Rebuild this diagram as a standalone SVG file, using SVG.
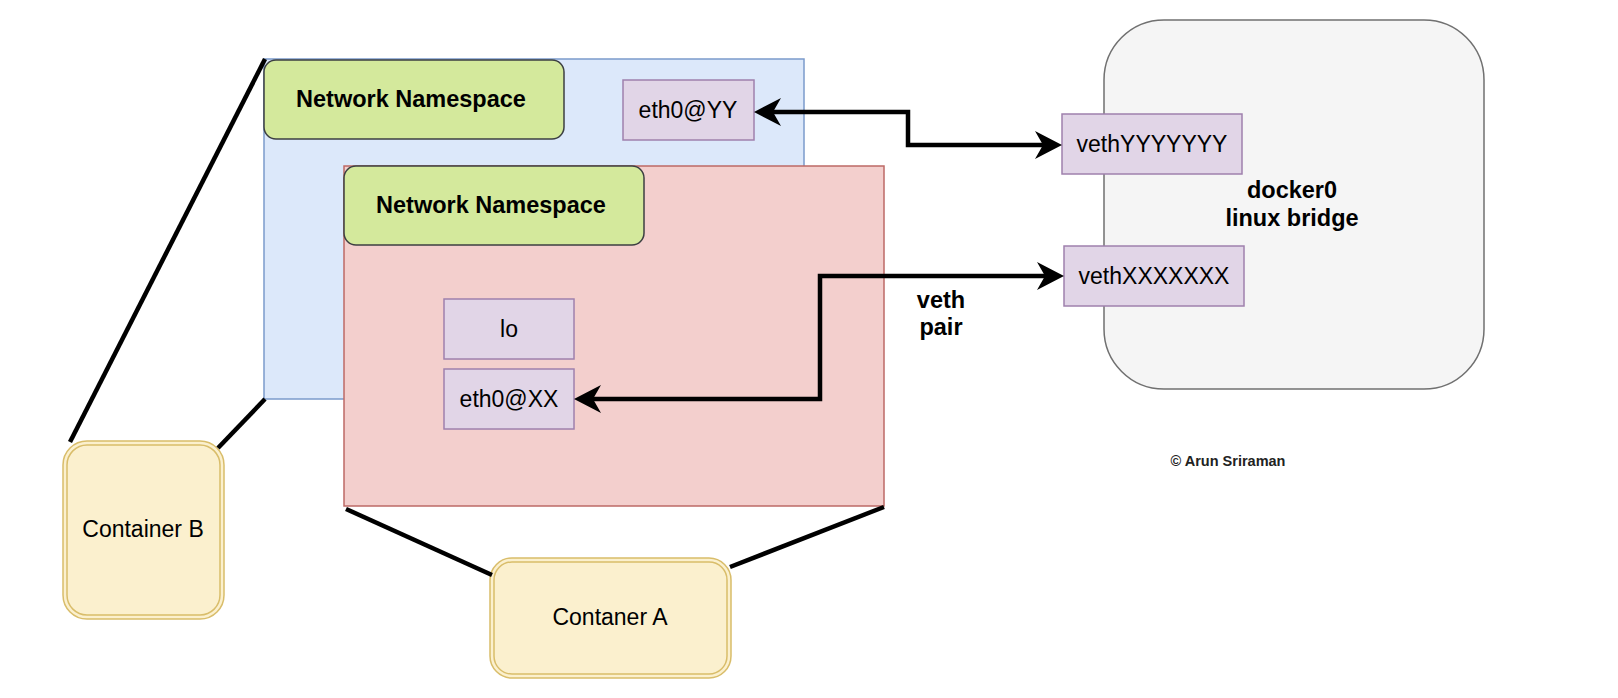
<svg xmlns="http://www.w3.org/2000/svg" width="1618" height="698" viewBox="0 0 1618 698">
<style>
text{font-family:"Liberation Sans",Arial,Helvetica,sans-serif;fill:#000;text-anchor:middle}
.lbl{font-size:23px}
.b{font-weight:bold;font-size:23.5px}
.blue{fill:#dce8fa;stroke:#7b9bcb;stroke-width:1.5}
.red{fill:#f3cfcd;stroke:#bd6a66;stroke-width:1.5}
.green{fill:#d4e99c;stroke:#3c3f42;stroke-width:1.5}
.purple{fill:#e1d5e7;stroke:#9f80ad;stroke-width:1.5}
.gray{fill:#f5f5f5;stroke:#707070;stroke-width:1.5}
.cont{fill:#fbf0ce;stroke:#d9bd6a;stroke-width:1.5}
.link{fill:none;stroke:#000;stroke-width:4.5}
.conn{fill:none;stroke:#000;stroke-width:4.5;stroke-linejoin:miter}
</style>
<defs>
<marker id="arr" markerUnits="userSpaceOnUse" markerWidth="32" markerHeight="32" refX="20" refY="16" orient="auto-start-reverse" overflow="visible">
<path d="M1,2 L28,16 L1,30 L9,16 Z" fill="#000"/>
</marker>
</defs>
<rect width="1618" height="698" fill="#ffffff"/>

<g id="docker0">
<rect class="gray" x="1104" y="20" width="380" height="369" rx="60" ry="60"/>
<text class="b" x="1292" y="198">docker0</text>
<text class="b" x="1292" y="226">linux bridge</text>
</g>

<g id="namespace-b">
<rect class="blue" x="264" y="59" width="540" height="340"/>
</g>
<g id="nn-b">
<rect class="green" x="264" y="60" width="300" height="79" rx="12" ry="12"/>
<text class="b" x="411" y="107">Network Namespace</text>
</g>
<g id="eth0-yy">
<rect class="purple" x="623" y="80" width="131" height="60"/>
<text class="lbl" x="688" y="118">eth0@YY</text>
</g>

<g id="namespace-a">
<rect class="red" x="344" y="166" width="540" height="340"/>
</g>
<g id="nn-a">
<rect class="green" x="344" y="166" width="300" height="79" rx="12" ry="12"/>
<text class="b" x="491" y="213">Network Namespace</text>
</g>
<g id="lo">
<rect class="purple" x="444" y="299" width="130" height="60"/>
<text class="lbl" x="509" y="337">lo</text>
</g>
<g id="eth0-xx">
<rect class="purple" x="444" y="369" width="130" height="60"/>
<text class="lbl" x="509" y="407">eth0@XX</text>
</g>

<g id="veth-yy">
<rect class="purple" x="1062" y="114" width="180" height="60"/>
<text class="lbl" x="1152" y="152">vethYYYYYYY</text>
</g>
<g id="veth-xx">
<rect class="purple" x="1064" y="246" width="180" height="60"/>
<text class="lbl" x="1154" y="284">vethXXXXXXX</text>
</g>

<g id="container-b">
<rect class="cont" x="63" y="441" width="161" height="178" rx="24" ry="24"/>
<rect class="cont" x="67" y="445" width="153" height="170" rx="20" ry="20" fill="none"/>
<text class="lbl" x="143" y="537">Container B</text>
</g>
<g id="container-a">
<rect class="cont" x="490" y="558" width="241" height="120" rx="22" ry="22"/>
<rect class="cont" x="494" y="562" width="233" height="112" rx="18" ry="18" fill="none"/>
<text class="lbl" x="610" y="625">Contaner A</text>
</g>

<g id="labels">
<text class="b" x="941" y="308">veth</text>
<text class="b" x="941" y="335">pair</text>
<text x="1228" y="466" style="font-size:14.5px;font-weight:bold;fill:#222">© Arun Sriraman</text>
</g>

<g id="connectors">
<line class="link" x1="70" y1="442" x2="265" y2="59"/>
<line class="link" x1="218" y1="448" x2="265" y2="399"/>
<line class="link" x1="346" y1="509" x2="492" y2="575"/>
<line class="link" x1="884" y1="507" x2="730" y2="567"/>
<path class="conn" d="M762,112 L908,112 L908,145 L1054,145" marker-start="url(#arr)" marker-end="url(#arr)"/>
<path class="conn" d="M582,399 L820,399 L820,276 L1056,276" marker-start="url(#arr)" marker-end="url(#arr)"/>
</g>
</svg>
